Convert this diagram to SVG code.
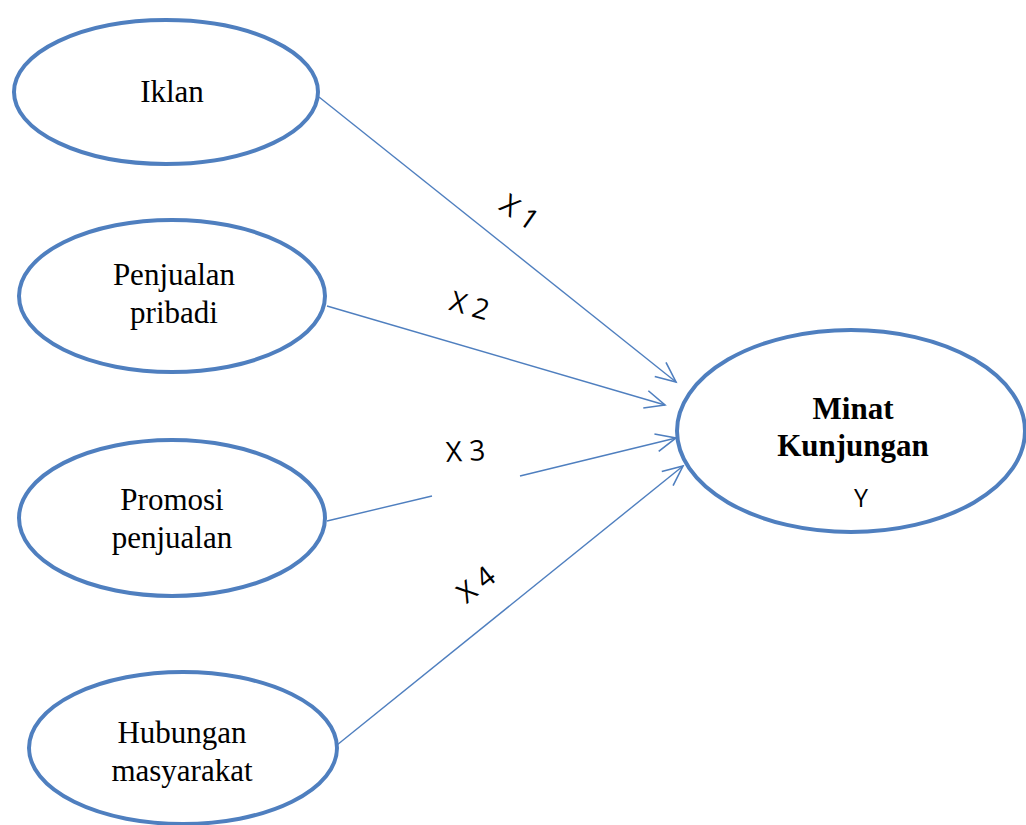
<svg xmlns="http://www.w3.org/2000/svg" width="1026" height="825" viewBox="0 0 1026 825">
<style>
.node{fill:#fff;stroke:#4f7fbf;stroke-width:4}
.lbl{font-family:"Liberation Serif",serif;font-size:31px;fill:#000;text-anchor:middle}
.b{font-weight:bold}
.edge{stroke:#4f7fbf;stroke-width:1.4;fill:none}
.x{font-family:"Open Sans","DejaVu Sans",sans-serif;font-size:28px;fill:#000;text-anchor:middle}
</style>
<defs>
<marker id="arr" markerUnits="userSpaceOnUse" markerWidth="30" markerHeight="30" refX="22" refY="12" orient="auto" viewBox="0 0 30 24">
<polyline points="2,3 22,12 2,21" fill="none" stroke="#4f7fbf" stroke-width="1.6"/>
</marker>
</defs>
<g id="edges">
<line class="edge" x1="319" y1="97" x2="676" y2="382" marker-end="url(#arr)"/>
<line class="edge" x1="327" y1="306" x2="665" y2="405" marker-end="url(#arr)"/>
<line class="edge" x1="327" y1="521" x2="432" y2="496"/>
<line class="edge" x1="520" y1="476" x2="676" y2="438" marker-end="url(#arr)"/>
<line class="edge" x1="337" y1="745" x2="683" y2="466" marker-end="url(#arr)"/>
<text class="x" transform="translate(514,220) rotate(35)">X 1</text>
<text class="x" transform="translate(467,315) rotate(16)">X 2</text>
<text class="x" transform="translate(466,461) rotate(-3)">X 3</text>
<text class="x" transform="translate(482,592) rotate(-38)">X 4</text>
</g>
<g id="iklan">
<ellipse class="node" cx="166" cy="92" rx="152" ry="72"/>
<text class="lbl" x="172" y="102">Iklan</text>
</g>
<g id="penjualan-pribadi">
<ellipse class="node" cx="172" cy="296" rx="153" ry="76"/>
<text class="lbl" x="174" y="285">Penjualan</text>
<text class="lbl" x="174" y="323">pribadi</text>
</g>
<g id="promosi-penjualan">
<ellipse class="node" cx="172" cy="518" rx="153" ry="78"/>
<text class="lbl" x="172" y="510">Promosi</text>
<text class="lbl" x="172" y="548">penjualan</text>
</g>
<g id="hubungan-masyarakat">
<ellipse class="node" cx="183" cy="748" rx="154" ry="76"/>
<text class="lbl" x="182" y="743">Hubungan</text>
<text class="lbl" x="182" y="781">masyarakat</text>
</g>
<g id="minat-kunjungan">
<ellipse class="node" cx="851" cy="431" rx="174" ry="101"/>
<text class="lbl b" x="853" y="419">Minat</text>
<text class="lbl b" x="853" y="456">Kunjungan</text>
<text class="x" x="861" y="507" style="font-size:25px">Y</text>
</g>
</svg>
